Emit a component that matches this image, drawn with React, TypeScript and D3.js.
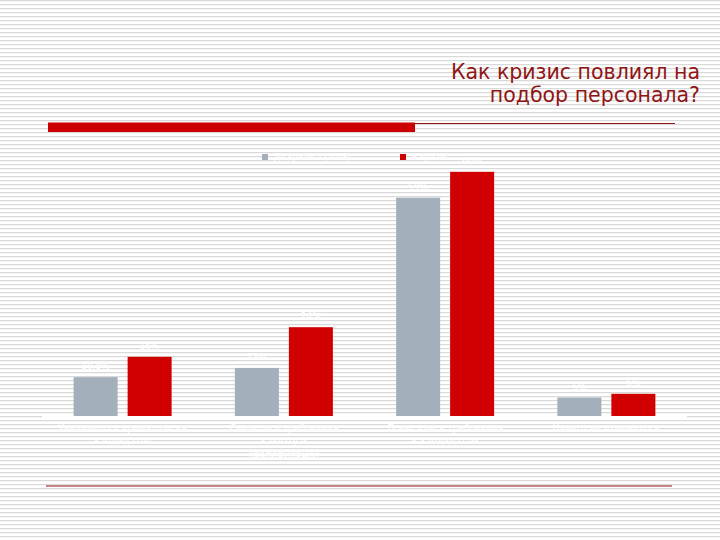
import React from "react";
import * as d3 from "d3";

const categories = [
    "Увеличилось время поиска кандидатов",
    "Снизились требования к опыту и квалификации",
    "Повысились требования к кандидатам",
    "Ничего не изменилось",
];
const seriesNames = ["До кризиса (2008)", "В кризис"];
const beforeValues = [10.5, 13, 59, 5];
const duringValues = [16, 24, 66, 6];
const categoryLines = [
    ["Увеличилось время поиска", "кандидатов"],
    ["Снизились требования", "к опыту и", "квалификации"],
    ["Повысились требования", "к кандидатам"],
    ["Ничего не изменилось"],
];

const W = 720;
const H = 540;
const colors = ["#a3afbb", "#d00000"];
const baseY = 416;

export default function App() {
    const x = d3.scaleBand(categories, [42, 687]);
    const groupW = 98;
    const x1 = d3.scaleBand(seriesNames, [0, groupW]).paddingInner(0.185);
    const y = d3.scaleLinear([0, 70], [baseY, 157]);
    const values = [beforeValues, duringValues];

    return (
        <svg width={W} height={H} style={{ position: "absolute", top: 0, left: 0 }}>
            <defs>
                <pattern id="stripes" width={4} height={4} patternUnits="userSpaceOnUse">
                    <rect width={4} height={4} fill="#ffffff" />
                    <rect y={0} width={4} height={1.2} fill="#d9d9d9" />
                </pattern>
            </defs>
            <rect width={W} height={H} fill="url(#stripes)" />

            {/* title */}
            <g fontFamily="DejaVu Sans, Verdana, sans-serif" fontSize={20.5} fill="#901515" textAnchor="end">
                <text x={700} y={79}>Как кризис повлиял на</text>
                <text x={700} y={102}>подбор персонала?</text>
            </g>
            <rect x={48} y={122.5} width={367} height={9.5} fill="#cc0000" />
            <line x1={415} x2={675} y1={123.5} y2={123.5} stroke="#901515" strokeWidth={1} />
            <line x1={46} x2={672} y1={486} y2={486} stroke="#901515" strokeWidth={1.2} />

            {/* legend */}
            <g fontFamily="DejaVu Sans, sans-serif" fontSize={8} fill="#ffffff">
                <rect x={262} y={154} width={6} height={6} fill={colors[0]} />
                <text x={274} y={160}>{seriesNames[0]}</text>
                <rect x={400} y={154} width={6} height={6} fill={colors[1]} />
                <text x={412} y={160}>{seriesNames[1]}</text>
            </g>

            {/* axis line */}
            <line x1={42} x2={687} y1={baseY + 1} y2={baseY + 1} stroke="#ffffff" strokeWidth={3} />

            {/* bars */}
            {categories.map((c, i) => {
                const gx = (x(c) ?? 0) + (x.bandwidth() - groupW) / 2;
                return (
                    <g key={c} transform={`translate(${gx},0)`}>
                        {seriesNames.map((s, j) => {
                            const v = values[j][i];
                            const bx = x1(s) ?? 0;
                            return (
                                <g key={s}>
                                    <rect
                                        x={bx}
                                        y={y(v)}
                                        width={x1.bandwidth()}
                                        height={baseY - y(v)}
                                        fill={colors[j]}
                                    />
                                    <text
                                        x={bx + x1.bandwidth() / 2}
                                        y={y(v) - 8}
                                        textAnchor="middle"
                                        fontFamily="DejaVu Sans, sans-serif"
                                        fontSize={9}
                                        fill="#ffffff"
                                    >
                                        {`${v}%`}
                                    </text>
                                </g>
                            );
                        })}
                    </g>
                );
            })}

            {/* category labels */}
            {categories.map((c, i) => (
                <text
                    key={`lab${i}`}
                    x={(x(c) ?? 0) + x.bandwidth() / 2}
                    y={431}
                    textAnchor="middle"
                    fontFamily="DejaVu Sans, sans-serif"
                    fontSize={9}
                    fill="#ffffff"
                >
                    {categoryLines[i].map((l, k) => (
                        <tspan key={k} x={(x(c) ?? 0) + x.bandwidth() / 2} dy={k === 0 ? 0 : 13}>
                            {l}
                        </tspan>
                    ))}
                </text>
            ))}
        </svg>
    );
}
